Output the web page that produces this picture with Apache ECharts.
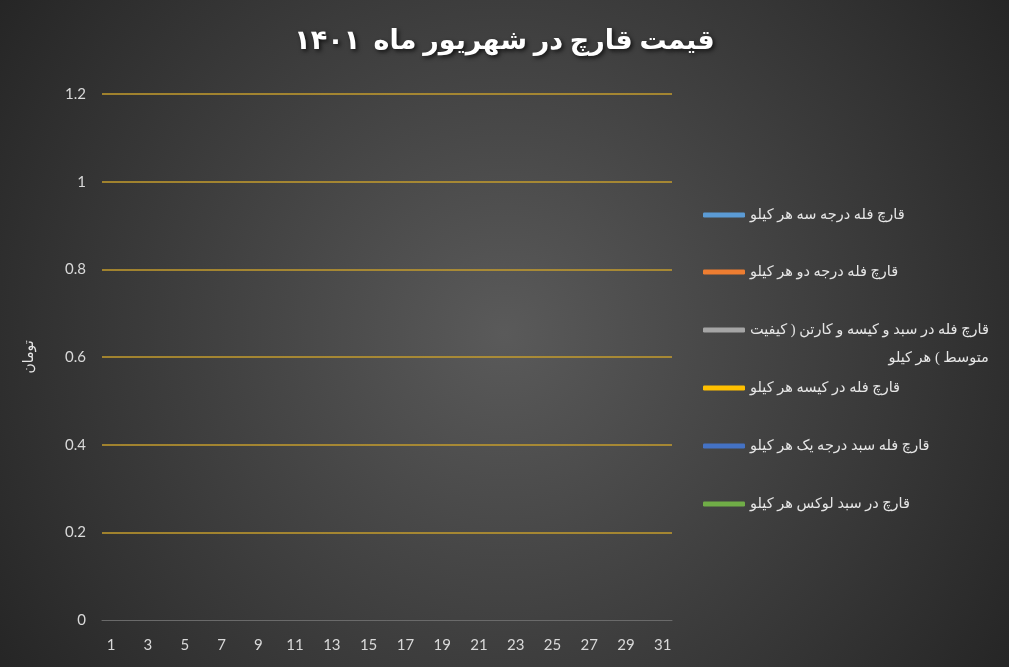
<!DOCTYPE html>
<html>
<head>
<meta charset="utf-8">
<script src="https://cdn.jsdelivr.net/npm/echarts@6/dist/echarts.min.js"></script>
<style>html,body{margin:0;padding:0;background:#2a2a2a}#c{width:1009px;height:667px}</style>
</head>
<body>
<div id="c"></div>
<script>
const titleText = 'قیمت قارچ در شهریور ماه  ۱۴۰۱';
const yAxisName = 'تومان';
const days = ['1','2','3','4','5','6','7','8','9','10','11','12','13','14','15','16','17','18','19','20','21','22','23','24','25','26','27','28','29','30','31'];
const seriesNames = [
  'قارچ فله درجه سه هر کیلو',
  'قارچ فله درجه دو هر کیلو',
  'قارچ فله در سبد و کیسه و کارتن ( کیفیت متوسط ) هر کیلو',
  'قارچ فله در کیسه هر کیلو',
  'قارچ فله سبد درجه یک هر کیلو',
  'قارچ در سبد لوکس هر کیلو'
];
const seriesColors = ['#5B9BD5','#ED7D31','#A5A5A5','#FFC000','#4472C4','#70AD47'];
// The reference chart has no plotted values for any series
const grade3Values = [];
const grade2Values = [];
const mediumValues = [];
const bagValues = [];
const grade1Values = [];
const luxuryValues = [];
const seriesValues = [grade3Values, grade2Values, mediumValues, bagValues, grade1Values, luxuryValues];
const yTicks = {min: 0, max: 1.2, interval: 0.2};

const legendCenters = [215, 272, 330, 388, 446, 504];
const arabicFont = '"Liberation Serif", "DejaVu Serif", "DejaVu Sans", serif';
const legendFontSize = 14.5;

const legends = seriesNames.map((name, i) => {
  const lg = {
    data: [name],
    left: 703,
    top: i === 2 ? legendCenters[i] - 42 : legendCenters[i] - 10,
    padding: 0,
    itemWidth: 42,
    itemHeight: 5,
    icon: 'roundRect',
    textStyle: {color: '#e6e6e6', fontSize: legendFontSize, fontFamily: arabicFont, lineHeight: 20},
    selectedMode: false
  };
  if (i === 2) {
    lg.formatter = function (n) {
      const k = n.indexOf('متوسط');
      return '{s|\u00a0}\n{r|' + n.slice(0, k).trim() + '}\n{r|' + n.slice(k) + '}';
    };
    lg.textStyle.rich = {
      s: {lineHeight: 28, fontSize: legendFontSize, fontFamily: arabicFont, color: '#e6e6e6'},
      r: {lineHeight: 28, fontSize: legendFontSize, fontFamily: arabicFont, color: '#e6e6e6', align: 'right'}
    };
  }
  return lg;
});

const chart = echarts.init(document.getElementById('c'));
chart.setOption({
  backgroundColor: {
    type: 'radial', x: 0.5, y: 0.5, r: 0.95,
    colorStops: [{offset: 0, color: '#5a5a5a'}, {offset: 1, color: '#232323'}]
  },
  animation: false,
  title: {
    text: titleText,
    left: 'center',
    top: 24,
    textStyle: {
      color: '#ffffff', fontSize: 27, fontWeight: 'bold', fontFamily: arabicFont,
      textShadowColor: 'rgba(0,0,0,0.7)', textShadowBlur: 4, textShadowOffsetX: 2, textShadowOffsetY: 2
    }
  },
  legend: legends,
  grid: {left: 102, right: 337, top: 94, bottom: 47, containLabel: false},
  xAxis: {
    type: 'category',
    data: days,
    boundaryGap: true,
    axisLine: {show: true, lineStyle: {color: '#6a6a6a', width: 1}},
    axisTick: {show: false},
    axisLabel: {interval: 1, color: '#d9d9d9', fontSize: 15, fontFamily: 'Lato, "Open Sans", sans-serif', margin: 18},
    splitLine: {show: false}
  },
  yAxis: {
    type: 'value',
    min: yTicks.min, max: yTicks.max, interval: yTicks.interval,
    name: yAxisName,
    nameLocation: 'middle',
    nameGap: 66,
    nameTextStyle: {color: '#e6e6e6', fontSize: 14, fontFamily: arabicFont},
    axisLine: {show: false},
    axisTick: {show: false},
    axisLabel: {color: '#d9d9d9', fontSize: 15, fontFamily: 'Lato, "Open Sans", sans-serif', margin: 16},
    splitLine: {show: true, showMinLine: false, lineStyle: {color: '#c49c2c', width: 1.5}}
  },
  series: seriesNames.map((name, i) => ({
    name: name,
    type: 'line',
    data: seriesValues[i],
    color: seriesColors[i],
    lineStyle: {width: 4, cap: 'round'},
    showSymbol: false
  }))
});
</script>
</body>
</html>
